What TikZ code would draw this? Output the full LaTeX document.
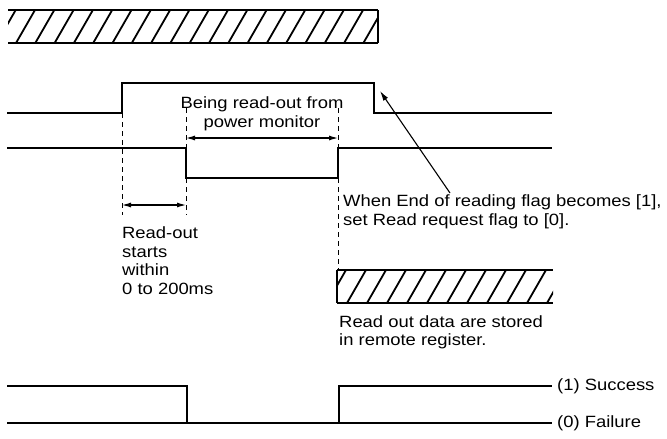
\documentclass[tikz,border=0pt]{standalone}
\usepackage{fontspec}
\setmainfont{Liberation Sans}[FakeStretch=1.13]
\usetikzlibrary{arrows.meta}
\begin{document}
\begin{tikzpicture}[x=1pt,y=-1pt,
  sig/.style={line width=2.8pt, line join=miter},
  thinsig/.style={line width=2pt},
  edge/.style={line width=2pt},
  guide/.style={line width=1pt, dash pattern=on 5pt off 4pt},
  dim/.style={line width=1.1pt, {Latex[length=9pt,width=5pt]}-{Latex[length=9pt,width=5pt]}},
  pointer/.style={line width=1.1pt, -{Latex[length=10pt,width=5.5pt]}},
  hatch/.style={line width=1.8pt},
  lbl/.style={font=\fontsize{16.3}{18.5}\selectfont, inner sep=0pt}]
\useasboundingbox (0,0) rectangle (667,439);

% top hatched bar
\begin{scope}
  \clip (8,10) rectangle (378,43);
  \foreach \i in {-2,...,20} \draw[hatch] (16+\i*19.3,43) -- ++(19,-33);
\end{scope}
\draw[sig] (8,10) -- (378,10);
\draw[sig] (8,43) -- (378,43);
\draw[edge] (378,10) -- (378,43);

% Read request flag
\draw[sig] (7,113) -- (122,113) -- (122,83) -- (374,83) -- (374,113) -- (552,113);
% End of reading flag
\draw[sig] (7,148) -- (186,148) -- (186,178) -- (338,178) -- (338,148) -- (552,148);

% guide lines
\coordinate (g1t) at (122,113); \coordinate (g1b) at (122,215);
\coordinate (g2t) at (186,108); \coordinate (g2m) at (186,148);
\coordinate (g2n) at (186,178); \coordinate (g2b) at (186,215);
\coordinate (g3t) at (338,108); \coordinate (g3m) at (338,148);
\coordinate (g3n) at (338,178); \coordinate (g3b) at (338,270);
\draw[guide] (g1t) -- (g1b);
\draw[guide] (g2t) -- (g2m);
\draw[guide] (g2n) -- (g2b);
\draw[guide] (g3t) -- (g3m);
\draw[guide] (g3n) -- (g3b);

% dimension arrows
\coordinate (a1l) at (186,138); \coordinate (a1r) at (338,138);
\draw[dim] (a1l) -- (a1r);
\coordinate (a2l) at (122,205); \coordinate (a2r) at (186,205);
\draw[dim] (a2l) -- (a2r);

\node[lbl, anchor=base, align=center] (being) at (262,127) {Being read-out from\\power monitor};
\node[lbl, anchor=base west, align=left] (starts) at (122,294) {Read-out\\starts\\within\\0 to 200ms};
\node[lbl, anchor=base west, align=left] (when) at (343,225) {When End of reading flag becomes [1],\\set Read request flag to [0].};

\coordinate (ptail) at (450,193);
\coordinate (phead) at (380,91);
\draw[pointer] (ptail) -- (phead);

% lower hatched box
\begin{scope}
  \clip (337,270) rectangle (553,303);
  \foreach \i in {-2,...,11} \draw[hatch] (347+\i*20,303) -- ++(19,-33);
\end{scope}
\draw[sig] (337,270) -- (553,270);
\draw[sig] (337,303) -- (553,303);
\draw[edge] (337,270) -- (337,303);
\node[lbl, anchor=base west, align=left] (stored) at (339,345.5) {Read out data are stored\\in remote register.};

% result flag
\draw[thinsig] (7,386) -- (187,386) -- (187,423);
\draw[thinsig] (7,423) -- (552,423);
\draw[thinsig] (339,423) -- (339,386) -- (552,386);
\node[lbl, anchor=west] (succ) at (557,386) {(1) Success};
\node[lbl, anchor=west] (fail) at (557,423) {(0) Failure};
\end{tikzpicture}
\end{document}
